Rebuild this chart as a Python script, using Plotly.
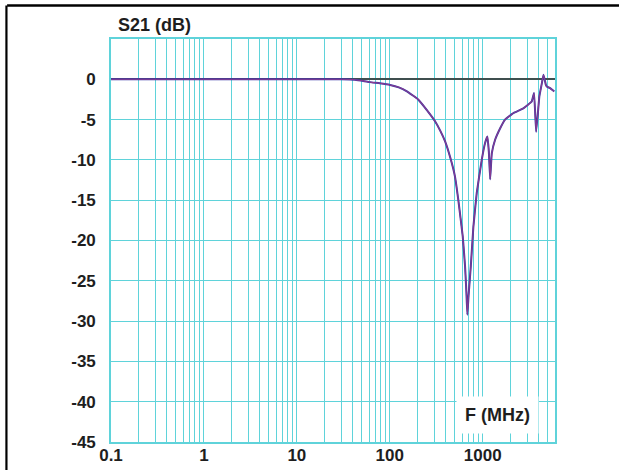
import plotly.graph_objects as go

# ---- data ----
freq_mhz = [0.1, 1, 10, 30, 42, 52, 61, 78, 101, 125, 153, 202, 258, 307, 350, 394,
            450, 504, 547, 610, 646, 668, 684, 705, 745, 794, 863, 977, 1061, 1123,
            1165, 1203, 1253, 1360, 1538, 1740, 2137, 2740, 3370, 3570, 3760, 4075,
            4330, 4510, 4790, 4900, 5310, 5890]
s21_db = [0, 0, 0, 0, -0.05, -0.2, -0.35, -0.5, -0.7, -1.0, -1.5, -2.5, -4.0, -5.2,
          -6.4, -7.7, -9.8, -12.1, -15.0, -19.5, -23.2, -26.5, -29.2, -26.8, -23.2,
          -18.3, -14.1, -10.0, -7.9, -7.1, -9.0, -12.4, -9.2, -7.5, -6.1, -5.0, -4.2,
          -3.6, -2.75, -1.7, -6.5, -2.1, -0.5, 0.55, -0.7, -0.9, -1.1, -1.5]

x_decades = [0.1, 1, 10, 100, 1000]
x_decade_labels = ["0.1", "1", "10", "100", "1000"]
x_grid = [round(m * d, 6) for d in x_decades for m in range(1, 10)] + [6000]
x_grid = [v for v in x_grid if v <= 6000]
x_ticktext = [x_decade_labels[x_decades.index(v)] if v in x_decades else "" for v in x_grid]

y_ticks = [0, -5, -10, -15, -20, -25, -30, -35, -40, -45]
y_ticktext = [str(v) for v in y_ticks]

GRID = "#5fd3da"
TXT = "#1e1e1e"
FONT = "Liberation Sans"

fig = go.Figure()
fig.add_trace(go.Scatter(x=freq_mhz, y=s21_db, mode="lines",
                         line=dict(color="#3a3aa8", width=2.0, shape="spline", smoothing=0.3),
                         showlegend=False, hoverinfo="skip"))
fig.add_trace(go.Scatter(x=freq_mhz, y=s21_db, mode="lines",
                         line=dict(color="#8a3a8e", width=1.1, shape="spline", smoothing=0.3),
                         showlegend=False, hoverinfo="skip"))

fig.update_xaxes(type="log", range=[-1, 3.77815], tickvals=x_grid, ticktext=x_ticktext,
                 showgrid=True, gridcolor=GRID, gridwidth=1.4,
                 showline=True, mirror=True, linecolor=GRID, linewidth=1.6,
                 ticks="", zeroline=False, ticklabelstandoff=-3, automargin=False,
                 tickfont=dict(family=FONT, size=17, color=TXT, weight="bold"))
fig.update_yaxes(range=[-45, 5], tickvals=y_ticks, ticktext=y_ticktext,
                 showgrid=True, gridcolor=GRID, gridwidth=1.4,
                 showline=True, mirror=True, linecolor=GRID, linewidth=1.6,
                 ticks="", zeroline=True, zerolinecolor="#3f4f4f", zerolinewidth=1.8,
                 ticklabelstandoff=10, automargin=False,
                 tickfont=dict(family=FONT, size=17, color=TXT, weight="bold"))

fig.add_annotation(text="<b>S21 (dB)</b>", xref="paper", yref="paper",
                   x=0.099, y=1.035, xanchor="center", yanchor="middle", showarrow=False,
                   font=dict(family=FONT, size=18, color=TXT))
fig.add_annotation(text="<b>F (MHz)</b>", xref="paper", yref="paper",
                   x=0.8716, y=0.067, xanchor="center", yanchor="middle",
                   showarrow=False, bgcolor="white", borderpad=8,
                   font=dict(family=FONT, size=18, color=TXT))

# outer frame lines (top and left)
fig.add_shape(type="line", xref="paper", yref="paper", x0=-0.234, x1=1.2,
              y0=1.083, y1=1.083, line=dict(color="black", width=2.5))
fig.add_shape(type="line", xref="paper", yref="paper", x0=-0.2355, x1=-0.2355,
              y0=1.083, y1=-0.1, line=dict(color="black", width=2.2))

fig.update_layout(width=619, height=470, margin=dict(l=111, r=64, t=39, b=28),
                  paper_bgcolor="white", plot_bgcolor="white", hovermode=False,
                  font=dict(family=FONT, color=TXT))
fig.write_html("out.html", config={"displayModeBar": False},
               post_script="document.body.style.margin='0px';document.body.style.overflow='hidden';")
